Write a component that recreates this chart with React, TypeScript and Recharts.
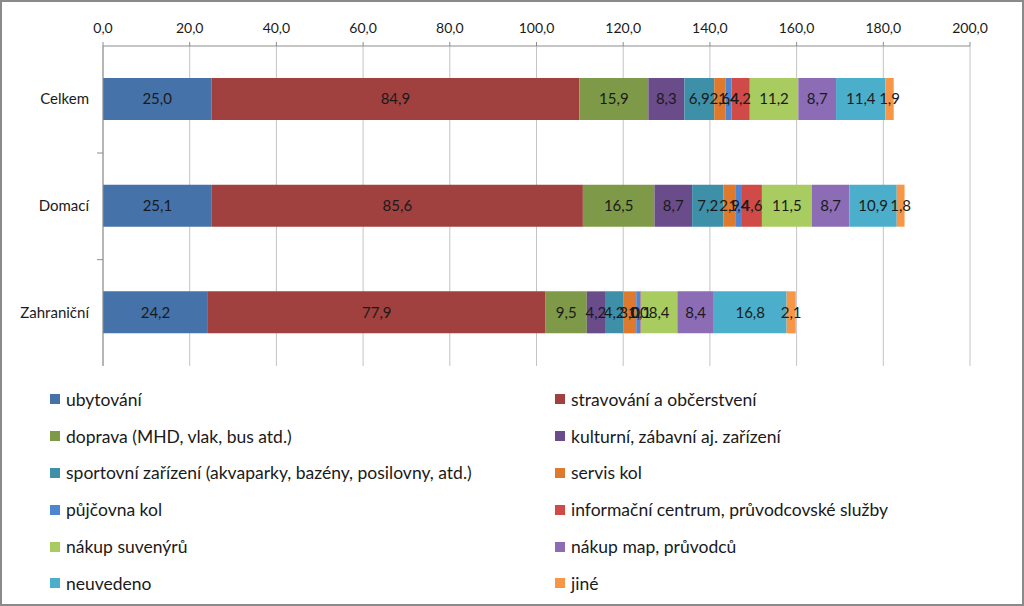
import { Bar, BarChart, CartesianGrid, LabelList, XAxis, YAxis } from "recharts"

const categories = ["Celkem", "Domací", "Zahraniční"]

const seriesNames = [
  "ubytování",
  "stravování a občerstvení",
  "doprava (MHD, vlak, bus atd.)",
  "kulturní, zábavní aj. zařízení",
  "sportovní zařízení (akvaparky, bazény, posilovny, atd.)",
  "servis kol",
  "půjčovna kol",
  "informační centrum, průvodcovské služby",
  "nákup suvenýrů",
  "nákup map, průvodců",
  "neuvedeno",
  "jiné",
]

// one array per category, in the order of seriesNames
const celkem = [25.0, 84.9, 15.9, 8.3, 6.9, 2.6, 1.4, 4.2, 11.2, 8.7, 11.4, 1.9]
const domaci = [25.1, 85.6, 16.5, 8.7, 7.2, 2.9, 1.4, 4.6, 11.5, 8.7, 10.9, 1.8]
const zahranicni = [24.2, 77.9, 9.5, 4.2, 4.2, 3.0, 1.0, 0.1, 8.4, 8.4, 16.8, 2.1]

const xTicks = [0, 20, 40, 60, 80, 100, 120, 140, 160, 180, 200]

const colors = [
  "#4672AA",
  "#A0413F",
  "#7E9A48",
  "#6A4C8A",
  "#3D90A8",
  "#DE7A2E",
  "#4D85D0",
  "#D04A48",
  "#A8CC60",
  "#8C6CB5",
  "#4BAFCB",
  "#F79646",
]

const rows = [celkem, domaci, zahranicni]
const data = categories.map((name, i) => {
  const row: Record<string, string | number> = { name }
  seriesNames.forEach((s, j) => {
    row["s" + j] = rows[i][j]
  })
  return row
})

const fmt = (v: number) => Number(v).toFixed(1).replace(".", ",")
const font = "Lato, 'Open Sans', sans-serif"

function CategoryTick(props: any) {
  const { x, y, payload } = props
  return (
    <g>
      <text x={x - 6} y={y} dy={5} textAnchor="end" fill="#1a1a1a" fontSize={15} fontFamily={font}>
        {payload.value}
      </text>
      {payload.index > 0 && (
        <line x1={x + 2} x2={x + 8} y1={y - 53} y2={y - 53} stroke="#8c8c8c" />
      )}
    </g>
  )
}

export default function App() {
  return (
    <div
      style={{
        position: "fixed",
        left: 0,
        top: 0,
        width: 1024,
        height: 606,
        boxSizing: "border-box",
        border: "2px solid #8a8a8a",
        background: "#fff",
        fontFamily: font,
      }}
    >
      <div style={{ position: "absolute", left: -2, top: -2 }}>
        <BarChart
          width={1024}
          height={370}
          data={data}
          layout="vertical"
          barSize={42}
          margin={{ top: 16, right: 54, left: 0, bottom: 4 }}
        >
          <CartesianGrid horizontal={false} stroke="#c4c4c4" />
          <XAxis
            type="number"
            orientation="top"
            domain={[0, 200]}
            ticks={xTicks}
            tickFormatter={fmt}
            height={30}
            interval={0}
            axisLine={{ stroke: "#8c8c8c" }}
            tickLine={{ stroke: "#8c8c8c" }}
            tickSize={4}
            tickMargin={9}
            tick={{ fill: "#1a1a1a", fontSize: 14, fontFamily: font }}
          />
          <YAxis
            type="category"
            dataKey="name"
            width={103}
            axisLine={{ stroke: "#8c8c8c" }}
            tickLine={false}
            tick={<CategoryTick />}
          />
          {seriesNames.map((s, j) => (
            <Bar key={s} dataKey={"s" + j} name={s} stackId="a" fill={colors[j]} isAnimationActive={false}>
              <LabelList
                dataKey={"s" + j}
                position="center"
                formatter={(v: any) => fmt(v)}
                fill="#1a1a1a"
                fontSize={15}
                fontFamily={font}
              />
            </Bar>
          ))}
        </BarChart>
      </div>
      <div
        style={{
          position: "absolute",
          left: 48,
          top: 379,
          display: "grid",
          gridTemplateColumns: "505px 460px",
          gridAutoRows: "36.8px",
          fontSize: 17.5,
          color: "#1a1a1a",
        }}
      >
        {seriesNames.map((s, j) => (
          <div key={s} style={{ display: "flex", alignItems: "center" }}>
            <span style={{ width: 10, height: 10, background: colors[j], marginRight: 6, flex: "none" }} />
            <span>{s}</span>
          </div>
        ))}
      </div>
    </div>
  )
}
